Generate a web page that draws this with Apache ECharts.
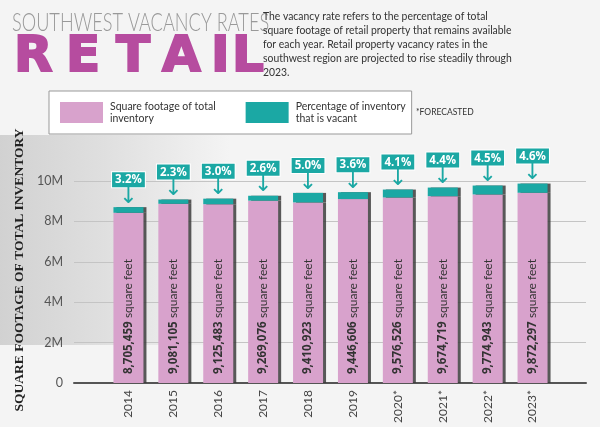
<!DOCTYPE html>
<html>
<head>
<meta charset="utf-8">
<script src="https://cdn.jsdelivr.net/npm/echarts@6/dist/echarts.min.js"></script>
<style>
  html, body { margin: 0; padding: 0; background: #f4f4f4; }
  #chart { width: 600px; height: 427px; }
</style>
</head>
<body>
<div id="chart"></div>
<script>
// data
const years = ['2014', '2015', '2016', '2017', '2018', '2019', '2020*', '2021*', '2022*', '2023*'];
const inventory = [8705459, 9081105, 9125483, 9269076, 9410923, 9446606, 9576526, 9674719, 9774943, 9872297];
const vacancyRate = [3.2, 2.3, 3.0, 2.6, 5.0, 3.6, 4.1, 4.4, 4.5, 4.6];
const yTicks = [0, 2000000, 4000000, 6000000, 8000000, 10000000];

const pink = '#d8a2cc';
const teal = '#1ba8a4';
const magenta = '#b64c9f';
const narrow = 'Lato, "Open Sans", sans-serif';

// split each bar into the occupied part and the vacant cap
const occupied = inventory.map((v, i) => v * (1 - vacancyRate[i] / 100));
const vacant = inventory.map((v, i) => v * vacancyRate[i] / 100);

const retailLetters = ['R', 'E', 'T', 'A', 'I', 'L'];
const letterX = [14, 66, 116, 162, 211, 232];

const chart = echarts.init(document.getElementById('chart'));

const option = {
    backgroundColor: '#f4f4f4',
    animation: false,
    grid: [
        { left: 74, right: 14, top: 181, bottom: 44 },
        { left: 106, right: 45, top: 181, bottom: 44 }
    ],
    legend: {
        left: 49,
        top: 91,
        padding: [9, 6, 9, 11],
        backgroundColor: '#ffffff',
        borderColor: '#999',
        borderWidth: 1,
        borderRadius: 0,
        itemWidth: 43,
        itemHeight: 21,
        itemGap: 30,
        icon: 'rect',
        textStyle: {
            fontFamily: narrow,
            fontSize: 10.5,
            lineHeight: 12.5,
            color: '#333',
            padding: [0, 0, 0, 2]
        },
        formatter: function (name) {
            return name === 'inventory'
                ? 'Square footage of total\ninventory'
                : 'Percentage of inventory\nthat is vacant';
        },
        data: ['inventory', 'vacant']
    },
    xAxis: [
        {
            type: 'category',
            gridIndex: 0,
            data: years,
            axisLabel: { show: false },
            axisTick: { show: false },
            axisLine: { lineStyle: { color: '#555', width: 2 } }
        },
        {
            type: 'category',
            gridIndex: 1,
            data: years,
            axisLine: { show: false },
            axisTick: { show: false },
            axisLabel: {
                rotate: 90,
                margin: 7,
                fontFamily: narrow,
                fontSize: 12,
                color: '#444'
            }
        }
    ],
    yAxis: [
        {
            type: 'value',
            gridIndex: 0,
            min: 0,
            max: 10000000,
            interval: 2000000,
            axisLine: { show: false },
            axisTick: { show: false },
            splitLine: { lineStyle: { color: '#c4c4c4', width: 1 } },
            axisLabel: {
                margin: 11,
                fontFamily: narrow,
                fontSize: 12.5,
                color: '#555',
                customValues: yTicks,
                formatter: v => v === 0 ? '0' : (v / 1000000) + 'M'
            }
        },
        {
            type: 'value',
            gridIndex: 1,
            min: 0,
            max: 10000000,
            show: false
        }
    ],
    series: [
        {
            name: 'inventory',
            type: 'bar',
            stack: 'total',
            xAxisIndex: 1,
            yAxisIndex: 1,
            barWidth: 30,
            data: occupied,
            itemStyle: {
                color: pink,
                shadowColor: 'rgba(60,60,60,0.85)',
                shadowOffsetX: 3,
                shadowBlur: 0
            },
            label: {
                show: true,
                position: 'insideBottom',
                distance: 9,
                rotate: 90,
                align: 'left',
                verticalAlign: 'middle',
                formatter: p => '{n|' + inventory[p.dataIndex].toLocaleString('en-US') + '} {s|square feet}',
                rich: {
                    n: { fontFamily: '"Open Sans", sans-serif', fontWeight: 'bold', fontSize: 11.5, color: '#333' },
                    s: { fontFamily: narrow, fontSize: 12, color: '#333' }
                }
            }
        },
        {
            name: 'vacant',
            type: 'bar',
            stack: 'total',
            xAxisIndex: 1,
            yAxisIndex: 1,
            barWidth: 30,
            data: vacant,
            itemStyle: {
                color: teal,
                shadowColor: 'rgba(60,60,60,0.85)',
                shadowOffsetX: 3,
                shadowBlur: 0
            },
            label: {
                show: true,
                position: 'top',
                distance: 0,
                formatter: p => '{b|' + vacancyRate[p.dataIndex].toFixed(1) + '%}\n{a|↓}',
                rich: {
                    b: {
                        fontFamily: '"Open Sans", sans-serif',
                        fontWeight: 'bold',
                        fontSize: 11.5,
                        color: '#fff',
                        backgroundColor: teal,
                        borderColor: '#fff',
                        borderWidth: 1,
                        padding: [2, 3, 1, 3],
                        lineHeight: 15
                    },
                    a: {
                        fontFamily: '"DejaVu Sans", sans-serif',
                        fontSize: 22,
                        lineHeight: 20,
                        color: teal
                    }
                }
            }
        }
    ],
    graphic: {
        elements: [
            {
                type: 'rect',
                x: 0,
                y: 135,
                z: -10,
                shape: { width: 230, height: 210 },
                style: {
                    fill: new echarts.graphic.LinearGradient(0, 0, 1, 0, [
                        { offset: 0, color: 'rgba(175,175,175,0.5)' },
                        { offset: 0.45, color: 'rgba(175,175,175,0.3)' },
                        { offset: 1, color: 'rgba(175,175,175,0)' }
                    ])
                }
            },
            {
                type: 'group',
                x: 12,
                y: 10,
                scaleX: 0.7,
                children: [{
                    type: 'text',
                    style: {
                        text: 'SOUTHWEST VACANCY RATES',
                        font: '300 26px Lato, "Open Sans", sans-serif',
                        fill: '#999'
                    }
                }]
            },
            ...retailLetters.map((ch, i) => ({
                type: 'text',
                x: letterX[i],
                y: 33,
                style: {
                    text: ch,
                    font: 'bold 50px "DejaVu Sans", sans-serif',
                    fill: magenta,
                    stroke: magenta,
                    lineWidth: 2
                }
            })),
            {
                type: 'group',
                x: 263,
                y: 9,
                scaleX: 0.865,
                children: [{
                    type: 'text',
                    style: {
                        text: 'The vacancy rate refers to the percentage of total\n' +
                              'square footage of retail property that remains available\n' +
                              'for each year. Retail property vacancy rates in the\n' +
                              'southwest region are projected to rise steadily through\n' +
                              '2023.',
                        font: '12px Lato, "Open Sans", sans-serif',
                        lineHeight: 14,
                        fill: '#333'
                    }
                }]
            },
            {
                type: 'text',
                x: 416,
                y: 108,
                style: {
                    text: '*FORECASTED',
                    font: '8.5px ' + narrow,
                    fill: '#333'
                }
            },
            {
                type: 'text',
                x: 20,
                y: 270,
                rotation: Math.PI / 2,
                style: {
                    text: 'SQUARE FOOTAGE OF TOTAL INVENTORY',
                    font: 'bold 13.5px "Liberation Serif", serif',
                    fill: '#222',
                    align: 'center',
                    verticalAlign: 'middle'
                }
            }
        ]
    }
};

chart.setOption(option);
</script>
</body>
</html>
